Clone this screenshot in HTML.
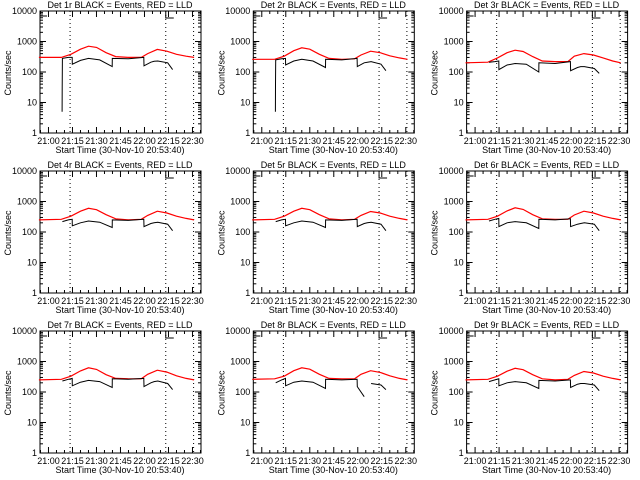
<!DOCTYPE html>
<html><head><meta charset="utf-8"><style>
body{margin:0;background:#fff;width:640px;height:480px;overflow:hidden}
svg{display:block}
text{font-family:"Liberation Sans",sans-serif;font-size:9px;fill:#000}
</style></head><body>
<svg id="root" width="640" height="480"></svg>
<script>
const detLabels = ["1r","2r","3r","4r","5r","6r","7r","8r","9r"];
const xTickLabels = ["21:00","21:15","21:30","21:45","22:00","22:15","22:30"];
const xTickMinutes = [0,15,30,45,60,75,90];
const yTickLabels = ["1","10","100","1000","10000"];
const yTickValues = [1,10,100,1000,10000];
const markerMinutes = [13.5,73.3,90.7];
const redT = [-6,8,14,20,25,30,36,42,50,58,62,68,74,80,86,91];
const blkT = [8.5,8.6,8.7,12.4,14.8,14.9,20,25,32,39.8,39.9,50,59.6,59.7,64,66,68.3,74.5,77.6];
const red1 = [300,300,380,560,700,640,430,320,300,300,400,550,480,380,330,300];
const red2 = [260,260,330,500,620,560,380,280,260,270,360,480,430,340,290,260];
const red3 = [200,210,290,430,520,470,320,230,220,220,330,400,360,290,230,200];
const red4 = [250,260,330,480,600,540,370,270,250,260,350,480,420,330,280,250];
const red5 = [250,260,330,480,600,540,370,270,250,260,350,470,420,330,280,250];
const red6 = [250,260,330,490,620,550,370,270,260,260,360,480,420,330,280,250];
const red7 = [250,260,330,490,620,550,370,280,270,270,380,520,450,340,280,250];
const red8 = [260,270,330,500,620,560,380,280,270,270,380,500,440,340,280,250];
const red9 = [250,260,330,480,600,540,370,270,250,260,350,470,420,330,280,250];
const blk1 = [5,30,280,300,300,180,240,280,250,150,280,270,300,160,210,225,230,200,120];
const blk2 = [5,40,250,270,280,170,230,260,230,140,260,250,280,150,200,210,220,180,110];
const blk3 = [null,null,210,220,230,120,170,190,180,100,200,190,220,110,140,150,150,130,90];
const blk4 = [null,null,220,250,260,160,200,230,210,140,250,240,260,150,190,200,210,180,110];
const blk5 = [null,null,220,250,260,160,200,230,210,140,250,240,260,150,190,200,210,180,110];
const blk6 = [null,null,230,260,280,150,200,220,200,130,260,250,270,150,180,190,200,180,110];
const blk7 = [null,null,230,260,280,160,210,240,220,140,270,260,280,150,200,220,230,190,120];
const blk8 = [null,null,200,250,280,160,210,230,210,130,260,250,260,150,70,null,190,170,120];
const blk9 = [null,null,220,250,270,160,200,220,200,130,240,230,250,140,180,190,190,170,110];
const reds=[red1,red2,red3,red4,red5,red6,red7,red8,red9];
const blks=[blk1,blk2,blk3,blk4,blk5,blk6,blk7,blk8,blk9];

const NS="http://www.w3.org/2000/svg";
const root=document.getElementById('root');
function mk(tag,attrs,parent){const e=document.createElementNS(NS,tag);for(const k in attrs)e.setAttribute(k,attrs[k]);parent.appendChild(e);return e;}
const L=40,R=201,T=11,B=133;
const xs=t=>L+(t+5.3)*1.6;
const ys=v=>B-(Math.log10(v))*(B-T)/4;
for(let p=0;p<9;p++){
  const ox=(p%3)*213.3, oy=Math.floor(p/3)*160;
  const g=mk('g',{transform:`translate(${ox.toFixed(1)},${oy})`},root);
  
  
  const ttl=mk('text',{x:120,y:8,'text-anchor':'middle','font-size':'10'},g);
  ttl.textContent=`Det ${detLabels[p]} BLACK = Events, RED = LLD`;
  
  
  const box=mk('rect',{x:L,y:T,width:R-L,height:B-T,fill:'none',stroke:'#000','stroke-width':1},g);
  
  
  yTickValues.forEach((v,i)=>{
    const y=ys(v);
    mk('line',{x1:L,x2:L+6,y1:y,y2:y,stroke:'#000'},g);
    mk('line',{x1:R,x2:R-6,y1:y,y2:y,stroke:'#000'},g);
    const t=mk('text',{x:L-3,y:y+3,'text-anchor':'end','font-size':'8'},g);
    t.textContent=yTickLabels[i];
    
    
    if(v<10000)for(let m=2;m<10;m++){const yy=ys(v*m);
      mk('line',{x1:L,x2:L+3,y1:yy,y2:yy,stroke:'#000'},g);
      mk('line',{x1:R,x2:R-3,y1:yy,y2:yy,stroke:'#000'},g);}
  });
  xTickMinutes.forEach((m,i)=>{
    const x=xs(m);
    mk('line',{x1:x,x2:x,y1:B,y2:B-6,stroke:'#000'},g);
    mk('line',{x1:x,x2:x,y1:T,y2:T+6,stroke:'#000'},g);
    const t=mk('text',{x:x,y:B+11,'text-anchor':'middle','font-size':'7.5'},g);
    t.textContent=xTickLabels[i];
    
    
  });
  for(let m=-5;m<=95;m+=5){if(m%15===0)continue;const x=xs(m);if(x<L||x>R)continue;
    mk('line',{x1:x,x2:x,y1:B,y2:B-3,stroke:'#000'},g);
    mk('line',{x1:x,x2:x,y1:T,y2:T+3,stroke:'#000'},g);}
  const xt=mk('text',{x:120,y:B+20,'text-anchor':'middle','font-size':'9'},g);
  xt.textContent='Start Time (30-Nov-10 20:53:40)';
  
  
  const yt=mk('text',{x:11,y:73,'text-anchor':'middle','font-size':'8',transform:'rotate(-90 11 73)'},g);
  yt.textContent='Counts/sec';
  
  
  markerMinutes.forEach(m=>{const x=xs(m);
    const d=mk('line',{x1:x,x2:x,y1:T,y2:B,stroke:'#000','stroke-dasharray':'1,3'},g);
    
    });
  mk('polyline',{points:`${L},${T+5} ${L+7},${T+5}`,fill:'none',stroke:'#000'},g);
  mk('polyline',{points:`${xs(73.3)},${T} ${xs(73.3)},${T+7} ${xs(73.3)+8},${T+7}`,fill:'none',stroke:'#000'},g);
  const rp=redT.map((t,i)=>xs(t).toFixed(1)+','+ys(reds[p][i]).toFixed(1)).join(' ');
  const rl=mk('polyline',{points:rp,fill:'none',stroke:'#ff0000','stroke-width':1.2},g);
  
  
  let seg=[];const segs=[];
  blkT.forEach((t,i)=>{const v=blks[p][i];if(v==null){if(seg.length)segs.push(seg);seg=[];}else seg.push(xs(t).toFixed(1)+','+ys(v).toFixed(1));});
  if(seg.length)segs.push(seg);
  segs.forEach(s=>{const bl=mk('polyline',{points:s.join(' '),fill:'none',stroke:'#000','stroke-width':1},g);
    
    });
}
</script>
</body></html>
